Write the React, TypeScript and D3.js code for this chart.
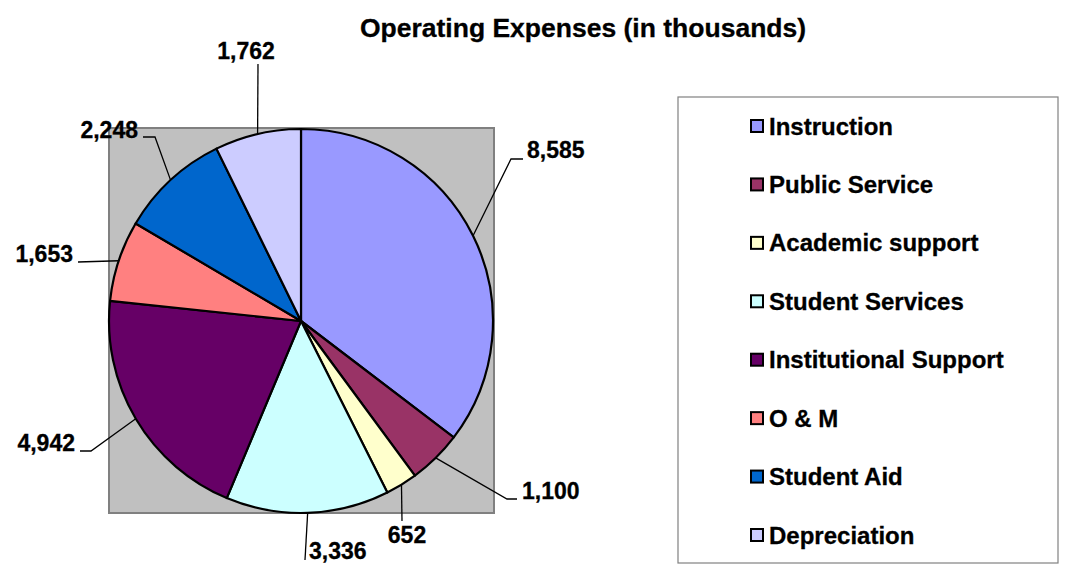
import React from "react";
import * as d3 from "d3";

const categories = [
  "Instruction",
  "Public Service",
  "Academic support",
  "Student Services",
  "Institutional Support",
  "O & M",
  "Student Aid",
  "Depreciation",
];
const values = [8585, 1100, 652, 3336, 4942, 1653, 2248, 1762];
const colors = ["#9999FF", "#993366", "#FFFFCC", "#CCFFFF", "#660066", "#FF8080", "#0066CC", "#CCCCFF"];
const title = "Operating Expenses (in thousands)";

// label layout: leader elbow/end points and text anchors (layout only)
const labelLayout = [
  { pts: [[511, 159], [523, 159]], tx: 527, ty: 158, anchor: "start" },
  { pts: [[507, 499], [517, 499]], tx: 522, ty: 499, anchor: "start" },
  { pts: [[402, 521]], tx: 407, ty: 543, anchor: "middle" },
  { pts: [[305, 560]], tx: 309, ty: 559, anchor: "start" },
  { pts: [[91, 451], [80, 451]], tx: 75, ty: 451, anchor: "end" },
  { pts: [[78, 262]], tx: 73, ty: 262, anchor: "end" },
  { pts: [[155, 137], [143, 137]], tx: 138, ty: 138, anchor: "end" },
  { pts: [[258, 64]], tx: 246, ty: 59, anchor: "middle" },
];

export default function App() {
  const W = 1068, H = 565;
  const cx = 301, cy = 321, r = 192;
  const pie = d3.pie<number>().sort(null).value((d) => d)(values);
  const arc = d3.arc<d3.PieArcDatum<number>>().innerRadius(0).outerRadius(r);
  const fmt = d3.format(",");
  const font = "'Liberation Sans', Arial, sans-serif";

  const legendX = 678, legendY = 97, legendW = 380, legendH = 466;
  const rowY = d3.scalePoint<string>().domain(categories).range([126, 535]);

  return (
    <svg width={W} height={H} style={{ position: "absolute", left: 0, top: 0, background: "#fff" }} fontFamily={font}>
      <text x={583} y={37} textAnchor="middle" fontSize={26.5} fontWeight="bold" stroke="#000" strokeWidth={0.3}>{title}</text>
      <rect x={cx - r} y={cy - r - 1} width={2 * r + 1} height={2 * r + 1} fill="#C0C0C0" stroke="#808080" strokeWidth={2} />
      <g transform={`translate(${cx},${cy})`}>
        {pie.map((p, i) => (
          <path key={i} d={arc(p) || ""} fill={colors[i]} stroke="#000" strokeWidth={2.2} strokeLinejoin="round" />
        ))}
      </g>
      {pie.map((p, i) => {
        const mid = (p.startAngle + p.endAngle) / 2;
        const ax = cx + r * Math.sin(mid);
        const ay = cy - r * Math.cos(mid);
        const L = labelLayout[i];
        const pts = [[ax, ay], ...L.pts];
        const line = d3.line()(pts as [number, number][]) || "";
        return (
          <g key={i}>
            <path d={line} fill="none" stroke="#000" strokeWidth={1.3} />
            <text x={L.tx} y={L.ty} textAnchor={L.anchor as any} fontSize={23} fontWeight="bold" stroke="#000" strokeWidth={0.3}>{fmt(values[i])}</text>
          </g>
        );
      })}
      <rect x={legendX} y={legendY} width={legendW} height={legendH} fill="#fff" stroke="#808080" strokeWidth={1.2} />
      {categories.map((c, i) => {
        const y = rowY(c) as number;
        return (
          <g key={c}>
            <rect x={751} y={y - 6} width={12} height={12} fill={colors[i]} stroke="#000" strokeWidth={2} />
            <text x={769} y={y + 8.5} fontSize={24} fontWeight="bold" stroke="#000" strokeWidth={0.3}>{c}</text>
          </g>
        );
      })}
    </svg>
  );
}
